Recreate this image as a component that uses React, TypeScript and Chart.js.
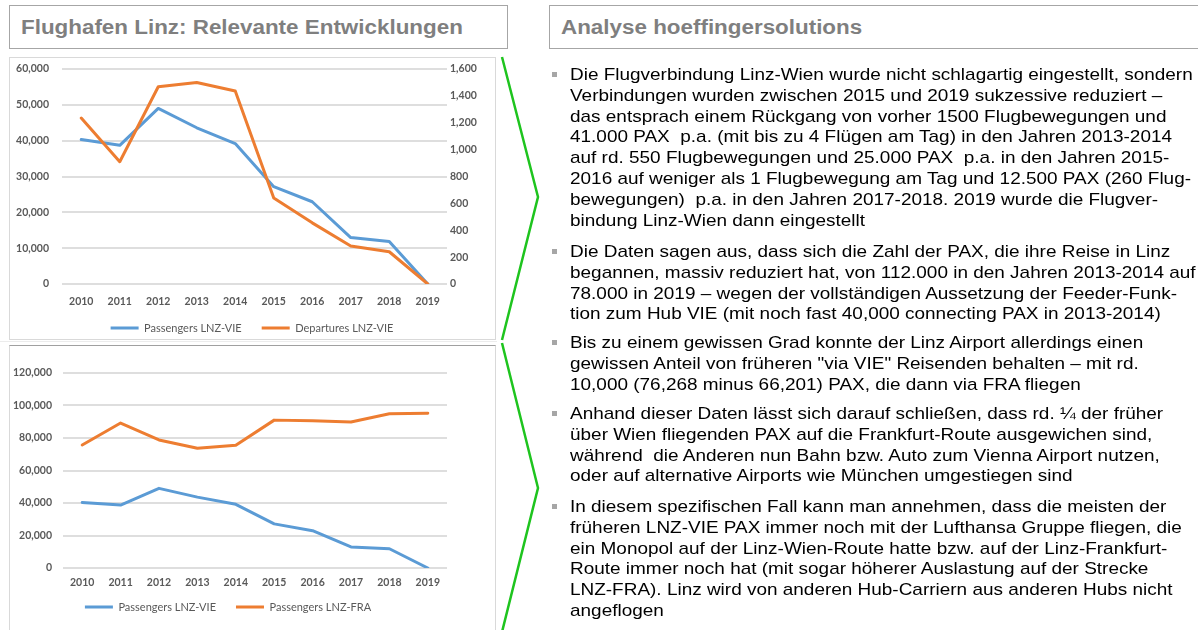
import React, { useEffect, useRef } from "react";
import { Chart, registerables } from "chart.js";

Chart.register(...registerables);

// ---------- data ----------
const years = ["2010", "2011", "2012", "2013", "2014", "2015", "2016", "2017", "2018", "2019"];
const passengersVIE = [40300, 38700, 49000, 43600, 39200, 27150, 22950, 12950, 11850, 0];
const departuresVIE = [1235, 910, 1468, 1500, 1436, 640, 455, 283, 240, 0];
const passengersFRA = [75700, 89200, 78800, 73700, 75500, 91000, 90600, 89900, 94900, 95300];

const labelPassengersVIE = "Passengers LNZ-VIE";
const labelDeparturesVIE = "Departures LNZ-VIE";
const labelPassengersFRA = "Passengers LNZ-FRA";

const BLUE = "#5B9BD5";
const ORANGE = "#ED7D31";
const TICK_COLOR = "#595959";
const GRID_COLOR = "#dedede";

const tickFont = { family: "Lato", size: 10.5, weight: "bold" as const };
const legendFont = { family: "Lato", size: 11 };

const titleLeft = "Flughafen Linz: Relevante Entwicklungen";
const titleRight = "Analyse hoeffingersolutions";

const paragraphs: { top: number; lines: string[] }[] = [
  {
    top: 65,
    lines: [
      "Die Flugverbindung Linz-Wien wurde nicht schlagartig eingestellt, sondern",
      "Verbindungen wurden zwischen 2015 und 2019 sukzessive reduziert –",
      "das entsprach einem Rückgang von vorher 1500 Flugbewegungen und",
      "41.000 PAX  p.a. (mit bis zu 4 Flügen am Tag) in den Jahren 2013-2014",
      "auf rd. 550 Flugbewegungen und 25.000 PAX  p.a. in den Jahren 2015-",
      "2016 auf weniger als 1 Flugbewegung am Tag und 12.500 PAX (260 Flug-",
      "bewegungen)  p.a. in den Jahren 2017-2018. 2019 wurde die Flugver-",
      "bindung Linz-Wien dann eingestellt",
    ],
  },
  {
    top: 242,
    lines: [
      "Die Daten sagen aus, dass sich die Zahl der PAX, die ihre Reise in Linz",
      "begannen, massiv reduziert hat, von 112.000 in den Jahren 2013-2014 auf",
      "78.000 in 2019 – wegen der vollständigen Aussetzung der Feeder-Funk-",
      "tion zum Hub VIE (mit noch fast 40,000 connecting PAX in 2013-2014)",
    ],
  },
  {
    top: 333,
    lines: [
      "Bis zu einem gewissen Grad konnte der Linz Airport allerdings einen",
      "gewissen Anteil von früheren \"via VIE\" Reisenden behalten – mit rd.",
      "10,000 (76,268 minus 66,201) PAX, die dann via FRA fliegen",
    ],
  },
  {
    top: 404,
    lines: [
      "Anhand dieser Daten lässt sich darauf schließen, dass rd. ¼ der früher",
      "über Wien fliegenden PAX auf die Frankfurt-Route ausgewichen sind,",
      "während  die Anderen nun Bahn bzw. Auto zum Vienna Airport nutzen,",
      "oder auf alternative Airports wie München umgestiegen sind",
    ],
  },
  {
    top: 497,
    lines: [
      "In diesem spezifischen Fall kann man annehmen, dass die meisten der",
      "früheren LNZ-VIE PAX immer noch mit der Lufthansa Gruppe fliegen, die",
      "ein Monopol auf der Linz-Wien-Route hatte bzw. auf der Linz-Frankfurt-",
      "Route immer noch hat (mit sogar höherer Auslastung auf der Strecke",
      "LNZ-FRA). Linz wird von anderen Hub-Carriern aus anderen Hubs nicht",
      "angeflogen",
    ],
  },
];

// ---------- helpers ----------
// Pins the legend box: fixed height for layout, fixed top for drawing.
const legendPinPlugin = {
  id: "legendPin",
  beforeLayout(chart: any, _args: any, opts: any) {
    const lg = chart.legend;
    if (lg && !lg.__fixed && opts && opts.height) {
      const orig = lg.fit.bind(lg);
      lg.fit = function () {
        orig();
        this.height = opts.height;
      };
      lg.__fixed = true;
    }
  },
  afterLayout(chart: any, _args: any, opts: any) {
    const lg = chart.legend;
    if (lg && opts && typeof opts.top === "number") {
      lg.top = opts.top;
      lg.bottom = chart.height;
    }
  },
};

function legendOptions() {
  return {
    position: "bottom" as const,
    labels: {
      boxWidth: 28,
      boxHeight: 3,
      padding: 20,
      color: TICK_COLOR,
      font: legendFont,
      sort: (a: any, b: any) => a.datasetIndex - b.datasetIndex,
      generateLabels: (chart: any) =>
        (Chart.defaults.plugins.legend.labels.generateLabels as any)(chart).map((l: any) => ({
          ...l,
          lineWidth: 0,
          fillStyle: l.strokeStyle,
        })),
    },
  };
}

function lineDataset(label: string, data: number[], color: string, extra: any = {}) {
  return {
    label,
    data,
    borderColor: color,
    backgroundColor: color,
    borderWidth: 3,
    pointRadius: 0,
    pointHoverRadius: 0,
    tension: 0,
    fill: false,
    borderJoinStyle: "round" as const,
    borderCapStyle: "round" as const,
    ...extra,
  };
}

function xScale(padding: number, height: number) {
  return {
    offset: true,
    grid: { display: false, drawTicks: false, offset: true },
    border: { display: false },
    ticks: { padding, maxRotation: 0, autoSkip: false, color: TICK_COLOR, font: tickFont },
    afterFit: (s: any) => {
      s.height = height;
    },
  };
}

function yFit(width: number) {
  return (s: any) => {
    s.width = width;
    s.paddingTop = 6;
    s.paddingBottom = 6;
  };
}

function useChart(ref: React.RefObject<HTMLCanvasElement | null>, makeConfig: () => any) {
  useEffect(() => {
    if (!ref.current) return;
    const chart = new Chart(ref.current, makeConfig());
    return () => chart.destroy();
  }, []);
}

function ChartOne() {
  const ref = useRef<HTMLCanvasElement>(null);
  useChart(ref, () => ({
    type: "line",
    data: {
      labels: years,
      datasets: [
        lineDataset(labelPassengersVIE, passengersVIE, BLUE, { yAxisID: "y", order: 1 }),
        lineDataset(labelDeparturesVIE, departuresVIE, ORANGE, { yAxisID: "y1", order: 0 }),
      ],
    },
    plugins: [legendPinPlugin],
    options: {
      responsive: false,
      animation: false,
      locale: "en-US",
      layout: { padding: { top: 12, left: 0, right: 0, bottom: 0 } },
      plugins: {
        legend: legendOptions(),
        legendPin: { height: 30, top: 245.5 },
        tooltip: { enabled: false },
        title: { display: false },
      },
      scales: {
        x: xScale(11, 25),
        y: {
          position: "left",
          min: 0,
          max: 60000,
          ticks: { stepSize: 10000, padding: 13, color: TICK_COLOR, font: tickFont },
          grid: { color: GRID_COLOR, lineWidth: 2, drawTicks: false },
          border: { display: false },
          afterFit: yFit(53),
        },
        y1: {
          position: "right",
          min: 0,
          max: 1600,
          ticks: { stepSize: 200, padding: 3, color: TICK_COLOR, font: tickFont },
          grid: { drawOnChartArea: false, drawTicks: false },
          border: { display: false },
          afterFit: yFit(48),
        },
      },
    },
  }));
  return (
    <canvas
      ref={ref}
      width={486}
      height={282}
      style={{ position: "absolute", left: 9, top: 57, width: 486, height: 282 }}
    />
  );
}

function ChartTwo() {
  const ref = useRef<HTMLCanvasElement>(null);
  useChart(ref, () => ({
    type: "line",
    data: {
      labels: years,
      datasets: [
        lineDataset(labelPassengersVIE, passengersVIE, BLUE, { order: 1 }),
        lineDataset(labelPassengersFRA, passengersFRA, ORANGE, { order: 0 }),
      ],
    },
    plugins: [legendPinPlugin],
    options: {
      responsive: false,
      animation: false,
      locale: "en-US",
      layout: { padding: { top: 27, left: 0, right: 48, bottom: 0 } },
      plugins: {
        legend: legendOptions(),
        legendPin: { height: 40, top: 235.5 },
        tooltip: { enabled: false },
        title: { display: false },
      },
      scales: {
        x: xScale(8, 22),
        y: {
          position: "left",
          min: 0,
          max: 120000,
          ticks: { stepSize: 20000, padding: 11, color: TICK_COLOR, font: tickFont },
          grid: { color: GRID_COLOR, lineWidth: 2, drawTicks: false },
          border: { display: false },
          afterFit: yFit(54),
        },
      },
    },
  }));
  return (
    <canvas
      ref={ref}
      width={486}
      height={284}
      style={{ position: "absolute", left: 9, top: 346, width: 486, height: 284 }}
    />
  );
}

const titleTextStyle: React.CSSProperties = {
  display: "inline-block",
  fontFamily: "'Liberation Sans', Arial, sans-serif",
  fontWeight: "bold",
  fontSize: 20,
  color: "#7f7f7f",
  transform: "scaleX(1.12)",
  transformOrigin: "left center",
  whiteSpace: "nowrap",
};

export default function App() {
  return (
    <div
      style={{
        position: "fixed",
        left: 0,
        top: 0,
        width: 1198,
        height: 630,
        overflow: "hidden",
        background: "#ffffff",
      }}
    >
      {/* title boxes */}
      <div
        style={{
          position: "absolute",
          left: 9,
          top: 5,
          width: 486,
          height: 42,
          border: "1px solid #a6a6a6",
          lineHeight: "42px",
          paddingLeft: 11,
          boxSizing: "content-box",
        }}
      >
        <span style={titleTextStyle}>{titleLeft}</span>
      </div>
      <div
        style={{
          position: "absolute",
          left: 549,
          top: 5,
          width: 646,
          height: 42,
          border: "1px solid #a6a6a6",
          lineHeight: "42px",
          paddingLeft: 11,
        }}
      >
        <span style={titleTextStyle}>{titleRight}</span>
      </div>

      {/* chart panels */}
      <div
        style={{
          position: "absolute",
          left: 9,
          top: 57,
          width: 485,
          height: 281,
          border: "1px solid #d9d9d9",
        }}
      />
      <div
        style={{
          position: "absolute",
          left: 0,
          top: 341,
          width: 497,
          height: 1,
          background: "#ececec",
        }}
      />
      <div
        style={{
          position: "absolute",
          left: 9,
          top: 345,
          width: 485,
          height: 300,
          border: "1px solid #d9d9d9",
          borderTop: "1px solid #a0a0a0",
        }}
      />
      <ChartOne />
      <ChartTwo />

      {/* green brackets */}
      <svg
        width={1198}
        height={630}
        style={{ position: "absolute", left: 0, top: 0, pointerEvents: "none" }}
      >
        <polyline points="502,57 538,197 502,340" fill="none" stroke="#1ec41e" strokeWidth={2.5} />
        <polyline points="502,343 538,488 502,632" fill="none" stroke="#1ec41e" strokeWidth={2.5} />
      </svg>

      {/* bullet text */}
      {paragraphs.map((p, i) => (
        <React.Fragment key={i}>
          <div
            style={{
              position: "absolute",
              left: 552,
              top: p.top + 7,
              width: 5,
              height: 5,
              background: "#a6a6a6",
            }}
          />
          <div
            style={{
              position: "absolute",
              left: 570,
              top: p.top,
              fontFamily: "'Liberation Sans', Arial, sans-serif",
              fontSize: 17,
              lineHeight: "20.8px",
              color: "#000000",
              whiteSpace: "pre",
              transform: "scaleX(1.115)",
              transformOrigin: "left top",
            }}
          >
            {p.lines.map((l, j) => (
              <div key={j}>{l}</div>
            ))}
          </div>
        </React.Fragment>
      ))}
    </div>
  );
}
